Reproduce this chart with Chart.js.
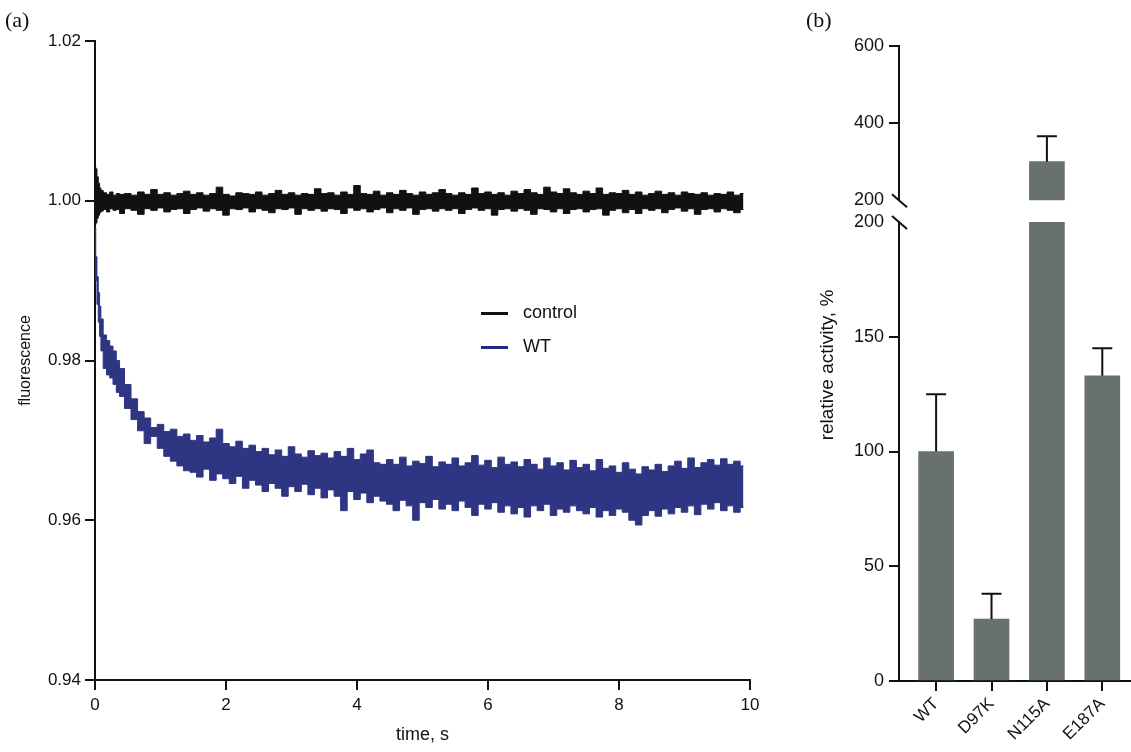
<!DOCTYPE html>
<html lang="en">
<head>
    <meta charset="UTF-8">
    <title>Fluorescence and relative activity</title>
    <style>
        body {
            margin: 0;
            background: #fff;
            font-family: "Liberation Sans", Arial, sans-serif;
            color: #111;
        }

        #page {
            position: relative;
            width: 1131px;
            height: 752px;
            overflow: hidden;
        }

        canvas {
            position: absolute;
        }

        #chartA { left: 0; top: 0; }
        #chartB1 { left: 790px; top: 0; }
        #chartB2 { left: 790px; top: 205px; }

        .panel {
            position: absolute;
            font-family: "Liberation Serif", "Times New Roman", serif;
            font-size: 22px;
        }

        .legend {
            position: absolute;
            left: 481px;
            top: 300px;
            font-size: 18px;
        }

        .legend div {
            height: 34px;
            line-height: 24px;
        }

        .legend span {
            display: inline-block;
            width: 27px;
            height: 3px;
            margin-right: 15px;
            vertical-align: middle;
        }

        #ytitleB {
            position: absolute;
            left: 827px;
            top: 365px;
            transform: translate(-50%, -50%) rotate(-90deg);
            font-size: 19px;
            white-space: nowrap;
        }
    </style>
</head>
<body>
<div id="page">
    <canvas id="chartA" width="780" height="752"></canvas>
    <canvas id="chartB1" width="341" height="216"></canvas>
    <canvas id="chartB2" width="341" height="547"></canvas>

    <div class="panel" style="left:5px; top:7px;">(a)</div>
    <div class="panel" style="left:806px; top:7px;">(b)</div>

    <div class="legend">
        <div><span style="background:#111;"></span>control</div>
        <div><span style="background:#1f2a80;"></span>WT</div>
    </div>

    <div id="ytitleB">relative activity, %</div>
</div>

<script src="https://cdn.jsdelivr.net/npm/chart.js"></script>
<script>
    // ---- panel (a): stopped-flow traces, upper/lower edge of the noise band ----
    const times = [
        0, 0.02, 0.04, 0.06, 0.08, 0.1, 0.15, 0.2, 0.25, 0.3, 0.35, 0.4,
        0.5, 0.6, 0.7, 0.8, 0.9, 1.0, 1.1, 1.2, 1.3, 1.4,
        1.5, 1.6, 1.7, 1.8, 1.9, 2.0, 2.1, 2.2, 2.3, 2.4,
        2.5, 2.6, 2.7, 2.8, 2.9, 3.0, 3.1, 3.2, 3.3, 3.4,
        3.5, 3.6, 3.7, 3.8, 3.9, 4.0, 4.1, 4.2, 4.3, 4.4,
        4.5, 4.6, 4.7, 4.8, 4.9, 5.0, 5.1, 5.2, 5.3, 5.4,
        5.5, 5.6, 5.7, 5.8, 5.9, 6.0, 6.1, 6.2, 6.3, 6.4,
        6.5, 6.6, 6.7, 6.8, 6.9, 7.0, 7.1, 7.2, 7.3, 7.4,
        7.5, 7.6, 7.7, 7.8, 7.9, 8.0, 8.1, 8.2, 8.3, 8.4,
        8.5, 8.6, 8.7, 8.8, 8.9, 9.0, 9.1, 9.2, 9.3, 9.4,
        9.5, 9.6, 9.7, 9.8, 9.9
    ];

    const controlHigh = [
        1.0044, 1.0040, 1.0030, 1.0022, 1.0016, 1.0013, 1.0010, 1.0008, 1.0011, 1.0007, 1.0009, 1.0008,
        1.0009, 1.0007, 1.0011, 1.0008, 1.0014, 1.0008, 1.0010, 1.0007, 1.0009, 1.0012,
        1.0008, 1.0010, 1.0007, 1.0009, 1.0017, 1.0008, 1.0006, 1.0010, 1.0009, 1.0008,
        1.0011, 1.0007, 1.0009, 1.0013, 1.0008, 1.0010, 1.0007, 1.0009, 1.0008, 1.0015,
        1.0009, 1.0010, 1.0007, 1.0011, 1.0008, 1.0019, 1.0009, 1.0008, 1.0012, 1.0007,
        1.0010, 1.0008, 1.0013, 1.0009, 1.0007, 1.0011, 1.0008, 1.0010, 1.0014, 1.0009,
        1.0007, 1.0010, 1.0008, 1.0016, 1.0009, 1.0011, 1.0008, 1.0010, 1.0007, 1.0012,
        1.0009, 1.0014, 1.0010, 1.0008, 1.0017, 1.0011, 1.0009, 1.0015, 1.0010, 1.0008,
        1.0012, 1.0009, 1.0016, 1.0008, 1.0010, 1.0009, 1.0013, 1.0008, 1.0011, 1.0007,
        1.0009, 1.0012, 1.0008, 1.0010, 1.0007, 1.0011, 1.0009, 1.0008, 1.0010, 1.0007,
        1.0009, 1.0008, 1.0011, 1.0007, 1.0009
    ];

    const controlLow = [
        0.9969, 0.9972, 0.9978, 0.9982, 0.9985, 0.9987, 0.9989, 0.9986, 0.9990, 0.9988, 0.9989, 0.9984,
        0.9990, 0.9988, 0.9983, 0.9990, 0.9988, 0.9991, 0.9986, 0.9989, 0.9990, 0.9984,
        0.9989, 0.9991, 0.9987, 0.9990, 0.9988, 0.9982, 0.9990, 0.9989, 0.9991, 0.9986,
        0.9990, 0.9988, 0.9985, 0.9990, 0.9989, 0.9991, 0.9983, 0.9990, 0.9988, 0.9990,
        0.9987, 0.9990, 0.9989, 0.9984, 0.9991, 0.9988, 0.9990, 0.9986, 0.9989, 0.9991,
        0.9985, 0.9990, 0.9988, 0.9991, 0.9983, 0.9989, 0.9990, 0.9987, 0.9990, 0.9988,
        0.9990, 0.9984, 0.9989, 0.9991, 0.9988, 0.9990, 0.9982, 0.9989, 0.9990, 0.9987,
        0.9990, 0.9988, 0.9983, 0.9990, 0.9989, 0.9986, 0.9990, 0.9984, 0.9989, 0.9990,
        0.9986, 0.9989, 0.9990, 0.9982, 0.9988, 0.9990, 0.9985, 0.9989, 0.9984, 0.9990,
        0.9988, 0.9990, 0.9985, 0.9989, 0.9991, 0.9987, 0.9990, 0.9983, 0.9989, 0.9990,
        0.9986, 0.9990, 0.9988, 0.9985, 0.9989
    ];

    const wtHigh = [
        0.9966, 0.9930, 0.9905, 0.9885, 0.9868, 0.9852, 0.9832, 0.9825, 0.9818, 0.9812, 0.9800, 0.9790,
        0.9770, 0.9752, 0.9736, 0.9728, 0.9716, 0.9720, 0.9711, 0.9714, 0.9705, 0.9708,
        0.9700, 0.9706, 0.9698, 0.9703, 0.9714, 0.9696, 0.9692, 0.9699, 0.9690, 0.9694,
        0.9686, 0.9690, 0.9682, 0.9688, 0.9680, 0.9692, 0.9683, 0.9679, 0.9687, 0.9681,
        0.9684, 0.9678, 0.9686, 0.9680, 0.9690, 0.9676, 0.9683, 0.9688, 0.9672, 0.9670,
        0.9676, 0.9670, 0.9679, 0.9668, 0.9674, 0.9671, 0.9680, 0.9667, 0.9673, 0.9670,
        0.9678, 0.9668, 0.9672, 0.9681, 0.9669, 0.9675, 0.9666, 0.9679, 0.9670, 0.9673,
        0.9667, 0.9676, 0.9670, 0.9664, 0.9678, 0.9668, 0.9672, 0.9663, 0.9675, 0.9666,
        0.9670, 0.9662, 0.9676, 0.9665, 0.9668, 0.9660, 0.9672, 0.9664, 0.9658, 0.9667,
        0.9663, 0.9670, 0.9661, 0.9668, 0.9674, 0.9665, 0.9678, 0.9666, 0.9672, 0.9676,
        0.9669, 0.9677, 0.9670, 0.9674, 0.9668
    ];

    const wtLow = [
        0.9966, 0.9900, 0.9870, 0.9848, 0.9830, 0.9812, 0.9790, 0.9782, 0.9778, 0.9770, 0.9760, 0.9755,
        0.9740, 0.9726, 0.9712, 0.9696, 0.9705, 0.9690, 0.9680, 0.9674, 0.9668, 0.9662,
        0.9660, 0.9654, 0.9664, 0.9650, 0.9658, 0.9652, 0.9646, 0.9655, 0.9640, 0.9650,
        0.9644, 0.9636, 0.9646, 0.9640, 0.9630, 0.9642, 0.9636, 0.9645, 0.9632, 0.9640,
        0.9628, 0.9638, 0.9630, 0.9612, 0.9636, 0.9626, 0.9634, 0.9622, 0.9630, 0.9624,
        0.9620, 0.9612, 0.9625, 0.9618, 0.9600, 0.9622, 0.9616, 0.9626, 0.9614, 0.9620,
        0.9612, 0.9624, 0.9616, 0.9606, 0.9620, 0.9614, 0.9622, 0.9610, 0.9618, 0.9608,
        0.9616, 0.9604, 0.9618, 0.9612, 0.9620, 0.9606, 0.9614, 0.9610, 0.9618, 0.9612,
        0.9608, 0.9616, 0.9604, 0.9612, 0.9606, 0.9614, 0.9610, 0.9600, 0.9594, 0.9606,
        0.9612, 0.9605, 0.9614, 0.9608, 0.9616, 0.9610, 0.9618, 0.9607, 0.9620, 0.9614,
        0.9622, 0.9612, 0.9618, 0.9610, 0.9616
    ];

    const timeTicks = [0, 2, 4, 6, 8, 10];
    const fluorTicks = [0.94, 0.96, 0.98, 1.00, 1.02];

    // ---- panel (b): relative activity with a broken axis ----
    const mutants = ['WT', 'D97K', 'N115A', 'E187A'];
    const activity = [100, 27, 300, 133];
    const activitySd = [25, 11, 66, 12];
    const lowTicks = [0, 50, 100, 150, 200];
    const highTicks = [200, 400, 600];
    const breakAt = 200;

    const ink = '#111';
    const blue = '#2e3582';
    const barGrey = '#697170';

    Chart.defaults.font.family = '"Liberation Sans", Arial, sans-serif';
    Chart.defaults.color = ink;

    const pts = arr => times.map((t, i) => ({ x: t, y: arr[i] }));

    function band(label, arr, color, fill) {
        return {
            label: label,
            data: pts(arr),
            borderColor: color,
            backgroundColor: color,
            borderWidth: 1,
            pointRadius: 0,
            stepped: 'middle',
            fill: fill
        };
    }

    const axisGrid = { drawOnChartArea: false, tickLength: 10, color: ink, lineWidth: 2 };
    const axisBorder = { color: ink, width: 2 };

    new Chart(document.getElementById('chartA'), {
        type: 'line',
        data: {
            datasets: [
                band('control', controlHigh, ink, false),
                band('control low', controlLow, ink, '-1'),
                band('WT', wtHigh, blue, false),
                band('WT low', wtLow, blue, '-1')
            ]
        },
        options: {
            responsive: false,
            animation: false,
            layout: { padding: { top: 41, right: 30, left: 0, bottom: 0 } },
            plugins: { legend: { display: false }, tooltip: { enabled: false } },
            scales: {
                x: {
                    type: 'linear',
                    min: 0,
                    max: 10,
                    afterFit: s => { s.height = 72; },
                    afterBuildTicks: s => { s.ticks = timeTicks.map(v => ({ value: v })); },
                    grid: axisGrid,
                    border: axisBorder,
                    ticks: { font: { size: 17 }, padding: 5, maxRotation: 0 },
                    title: { display: true, text: 'time, s', font: { size: 18 }, padding: { top: 0, bottom: 6 } }
                },
                y: {
                    min: 0.94,
                    max: 1.02,
                    afterFit: s => { s.width = 95; },
                    afterBuildTicks: s => { s.ticks = fluorTicks.map(v => ({ value: v })); },
                    grid: axisGrid,
                    border: axisBorder,
                    ticks: { font: { size: 17 }, padding: 4, callback: v => v.toFixed(2) },
                    title: { display: true, text: 'fluorescence', font: { size: 16 }, padding: { top: 16, bottom: 0 } }
                }
            }
        }
    });

    // error bars on top of the bars, only where the bar ends inside this axis segment
    const errorBars = {
        id: 'errorBars',
        afterDatasetsDraw(chart) {
            const x = chart.scales.x, y = chart.scales.y, ctx = chart.ctx;
            ctx.save();
            ctx.strokeStyle = ink;
            ctx.lineWidth = 2;
            activity.forEach((v, i) => {
                if (v <= y.min || v > y.max) return;
                const px = x.getPixelForValue(i);
                const y0 = y.getPixelForValue(v);
                const y1 = y.getPixelForValue(v + activitySd[i]);
                ctx.beginPath();
                ctx.moveTo(px, y0);
                ctx.lineTo(px, y1);
                ctx.moveTo(px - 10, y1);
                ctx.lineTo(px + 10, y1);
                ctx.stroke();
            });
            ctx.restore();
        }
    };

    // the little slash where the y axis is cut
    const breakMarks = {
        id: 'breakMarks',
        afterDraw(chart) {
            const y = chart.scales.y, ctx = chart.ctx;
            const py = y.getPixelForValue(breakAt);
            ctx.save();
            ctx.strokeStyle = ink;
            ctx.lineWidth = 2;
            ctx.beginPath();
            ctx.moveTo(y.right - 7, py - 6);
            ctx.lineTo(y.right + 8, py + 7);
            ctx.stroke();
            ctx.restore();
        }
    };

    function barChart(canvasId, values, yMin, yMax, yTicks, pad, showX) {
        return new Chart(document.getElementById(canvasId), {
            type: 'bar',
            data: {
                datasets: [{
                    data: mutants.map((m, i) => ({ x: i, y: values[i] })),
                    backgroundColor: barGrey,
                    borderWidth: 0,
                    barThickness: 35
                }]
            },
            options: {
                responsive: false,
                animation: false,
                layout: { padding: pad },
                plugins: { legend: { display: false }, tooltip: { enabled: false } },
                scales: {
                    x: {
                        type: 'linear',
                        min: -0.67,
                        max: 3.5,
                        offset: false,
                        display: showX,
                        afterFit: s => { s.height = showX ? 71 : 0; },
                        afterBuildTicks: s => { s.ticks = mutants.map((m, i) => ({ value: i })); },
                        grid: Object.assign({}, axisGrid, { offset: false }),
                        border: axisBorder,
                        ticks: {
                            autoSkip: false,
                            font: { size: 17 },
                            padding: 3,
                            minRotation: 45,
                            maxRotation: 45,
                            callback: v => mutants[v]
                        }
                    },
                    y: {
                        min: yMin,
                        max: yMax,
                        afterFit: s => { s.width = 109; },
                        afterBuildTicks: s => { s.ticks = yTicks.map(v => ({ value: v })); },
                        grid: Object.assign({}, axisGrid, {
                            tickColor: c => (c.tick && c.tick.value === breakAt) ? 'rgba(0,0,0,0)' : ink
                        }),
                        border: axisBorder,
                        ticks: { font: { size: 18 }, padding: 5 }
                    }
                }
            },
            plugins: [errorBars, breakMarks]
        });
    }

    // upper segment 200-600 (only bars that pass the break)
    barChart('chartB1', activity.map(v => v > breakAt ? v : null), 200, 600, highTicks,
        { top: 46, bottom: 11, left: 0, right: 1 }, false);

    // lower segment 0-200, tall bars are cut at the break
    barChart('chartB2', activity.map(v => Math.min(v, breakAt)), 0, 200, lowTicks,
        { top: 17, bottom: 0, left: 0, right: 1 }, true);
</script>
</body>
</html>
